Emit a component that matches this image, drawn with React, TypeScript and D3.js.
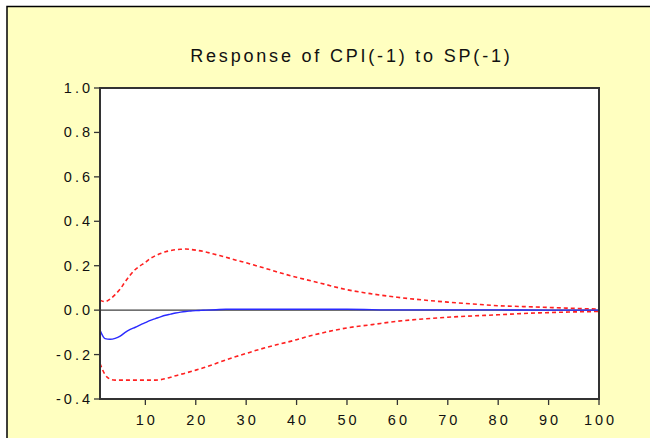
import React from "react";
import * as d3 from "d3";

// Impulse response of CPI(-1) to a shock in SP(-1), with ±2 S.E. bands
const respPeriods = [1, 2, 3, 4, 5, 6, 7, 8, 9, 10, 11, 12, 13, 14, 15, 16, 17, 18, 19, 20, 21, 22, 24, 26, 30, 40, 50, 60, 70, 80, 90, 100];
const respValues = [-0.09, -0.128, -0.131, -0.127, -0.117, -0.1, -0.087, -0.077, -0.066, -0.056, -0.046, -0.038, -0.03, -0.023, -0.018, -0.013, -0.009, -0.006, -0.004, -0.002, -0.001, 0, 0.002, 0.004, 0.004, 0.004, 0.004, 0.001, 0.001, 0.001, 0, 0];

const upperPeriods = [1, 2, 3, 4, 5, 6, 7, 8, 9, 10, 11, 12, 13, 14, 15, 16, 17, 18, 19, 20, 22, 24, 26, 28, 30, 32, 34, 36, 38, 40, 45, 50, 55, 60, 65, 70, 75, 80, 85, 90, 95, 100];
const upperValues = [0.045, 0.038, 0.05, 0.07, 0.095, 0.128, 0.158, 0.183, 0.2, 0.215, 0.233, 0.245, 0.255, 0.263, 0.268, 0.272, 0.274, 0.275, 0.273, 0.27, 0.262, 0.25, 0.238, 0.225, 0.213, 0.2, 0.187, 0.173, 0.16, 0.148, 0.12, 0.092, 0.073, 0.058, 0.046, 0.036, 0.028, 0.02, 0.016, 0.012, 0.008, 0.005];

const lowerPeriods = [1, 2, 3, 4, 6, 8, 10, 12, 13, 14, 15, 16, 18, 20, 22, 24, 26, 28, 30, 32, 34, 36, 38, 40, 42, 45, 50, 55, 60, 65, 70, 75, 80, 85, 90, 95, 100];
const lowerValues = [-0.24, -0.29, -0.31, -0.315, -0.315, -0.315, -0.315, -0.315, -0.313, -0.308, -0.302, -0.295, -0.283, -0.27, -0.256, -0.24, -0.224, -0.209, -0.195, -0.181, -0.168, -0.156, -0.145, -0.133, -0.12, -0.103, -0.08, -0.065, -0.05, -0.04, -0.032, -0.026, -0.021, -0.015, -0.011, -0.008, -0.006];

const yTicks = [1.0, 0.8, 0.6, 0.4, 0.2, 0.0, -0.2, -0.4];
const xTicks = [10, 20, 30, 40, 50, 60, 70, 80, 90, 100];

const title = "Response of CPI(-1) to SP(-1)";

const W = 650;
const H = 438;
const plot = { left: 100, right: 599, top: 88, bottom: 399 };

export default function App() {
  const x = d3.scaleLinear().domain([1, 100]).range([plot.left, plot.right]);
  const y = d3.scaleLinear().domain([-0.4, 1.0]).range([plot.bottom, plot.top]);

  const line = d3
    .line<[number, number]>()
    .x((d) => x(d[0]))
    .y((d) => y(d[1]))
    .curve(d3.curveMonotoneX);

  const resp = line(respPeriods.map((p, i) => [p, respValues[i]]) as [number, number][]) || "";
  const upper = line(upperPeriods.map((p, i) => [p, upperValues[i]]) as [number, number][]) || "";
  const lower = line(lowerPeriods.map((p, i) => [p, lowerValues[i]]) as [number, number][]) || "";

  const font = "'Liberation Sans', Arial, sans-serif";
  const ls = 3;
  const tickFont = 14.5;

  return (
    <svg
      width={W}
      height={H}
      viewBox={`0 0 ${W} ${H}`}
      style={{ position: "absolute", left: 0, top: 0, background: "#ffffff" }}
    >
      {/* outer frame */}
      <rect x={7} y={6.5} width={W + 20} height={H + 20} fill="#ffffc0" stroke="#000" strokeWidth={1.5} />

      <text
        x={350 + 1.4}
        y={62}
        textAnchor="middle"
        fontFamily={font}
        fontSize={18}
        letterSpacing={2.8}
        fill="#111"
      >
        {title}
      </text>

      {/* plot area */}
      <rect
        x={plot.left}
        y={plot.top}
        width={plot.right - plot.left}
        height={plot.bottom - plot.top}
        fill="#ffffff"
      />

      {/* zero line */}
      <line x1={plot.left} x2={plot.right} y1={y(0)} y2={y(0)} stroke="#404040" strokeWidth={1.3} />

      <path d={upper} fill="none" stroke="#ff2020" strokeWidth={1.6} strokeDasharray="4 3" />
      <path d={lower} fill="none" stroke="#ff2020" strokeWidth={1.6} strokeDasharray="4 3" />
      <path d={resp} fill="none" stroke="#2a2aff" strokeWidth={1.4} />

      {/* frame of plot */}
      <rect
        x={plot.left}
        y={plot.top}
        width={plot.right - plot.left}
        height={plot.bottom - plot.top}
        fill="none"
        stroke="#333"
        strokeWidth={2}
      />

      {/* y axis */}
      {yTicks.map((t) => (
        <g key={`y${t}`}>
          <line x1={plot.left - 6} x2={plot.left} y1={y(t)} y2={y(t)} stroke="#333" strokeWidth={1.3} />
          <text
            x={plot.left - 10 + ls}
            y={y(t) + 5}
            textAnchor="end"
            fontFamily={font}
            fontSize={tickFont}
            letterSpacing={ls}
            fill="#111"
          >
            {t.toFixed(1)}
          </text>
        </g>
      ))}

      {/* x axis */}
      {xTicks.map((t) => (
        <g key={`x${t}`}>
          <line x1={x(t)} x2={x(t)} y1={plot.bottom} y2={plot.bottom + 6} stroke="#333" strokeWidth={1.3} />
          <text
            x={x(t) + ls / 2}
            y={425}
            textAnchor="middle"
            fontFamily={font}
            fontSize={tickFont}
            letterSpacing={ls}
            fill="#111"
          >
            {t}
          </text>
        </g>
      ))}
    </svg>
  );
}
